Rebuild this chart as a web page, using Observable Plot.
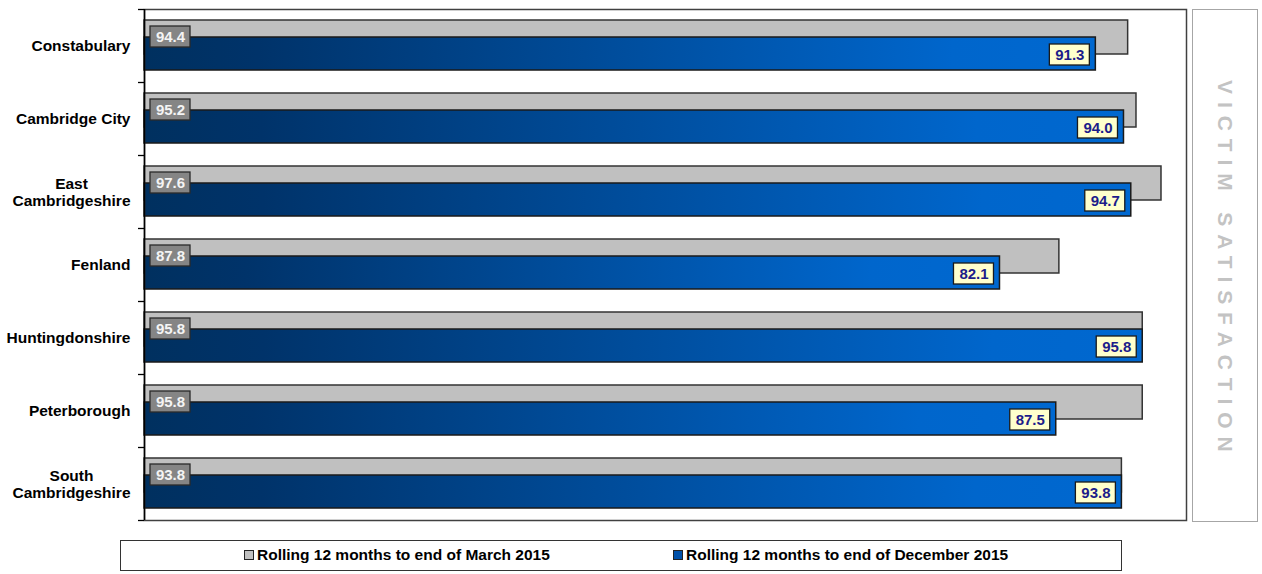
<!DOCTYPE html>
<html>
<head>
<meta charset="utf-8">
<script src="https://cdn.jsdelivr.net/npm/d3@7"></script>
<script src="https://cdn.jsdelivr.net/npm/@observablehq/plot@0.6"></script>
<style>
  body { margin: 0; background: #fff; font-family: "Liberation Sans", Arial, sans-serif; }
  #wrap { position: relative; width: 1262px; height: 574px; overflow: hidden; }
  #chart { position: absolute; left: 0; top: 0; }
  #chart svg { display: block; }
  #side {
    position: absolute; left: 1192px; top: 9px; width: 64px; height: 511px;
    border: 1px solid #a6a6a6; display: flex; align-items: center; justify-content: center;
  }
  #side span {
    writing-mode: vertical-rl; color: #c3c3c3; font-weight: bold; font-size: 21px;
    letter-spacing: 7.9px; padding-top: 8px;
  }
  #legend {
    position: absolute; left: 120px; top: 540px; width: 1000px; height: 29px;
    border: 1.5px solid #333; background: #fff;
  }
  .item { position: absolute; top: 5px; font-weight: bold; font-size: 15.5px; color: #000; white-space: nowrap; display: flex; align-items: center; }
  .sw { display: inline-block; width: 8px; height: 8px; border: 1px solid #222; margin-right: 3px; }
</style>
</head>
<body>
<div id="wrap">
  <div id="chart"></div>
  <div id="side"><span id="sideText"></span></div>
  <div id="legend"></div>
</div>
<script>
const areas = ["Constabulary", "Cambridge City", "East Cambridgeshire", "Fenland", "Huntingdonshire", "Peterborough", "South Cambridgeshire"];
const tickLabels = ["Constabulary", "Cambridge City", "East\nCambridgeshire", "Fenland", "Huntingdonshire", "Peterborough", "South\nCambridgeshire"];
const march2015 = [94.4, 95.2, 97.6, 87.8, 95.8, 95.8, 93.8];
const dec2015 = [91.3, 94.0, 94.7, 82.1, 95.8, 87.5, 93.8];
const seriesNames = ["Rolling 12 months to end of March 2015", "Rolling 12 months to end of December 2015"];
const seriesColors = ["#c0c0c0", "#0050a8"];
const sideTitle = "VICTIM SATISFACTION";

const rows = areas.map((area, i) => ({area, label: tickLabels[i], march: march2015[i], dec: dec2015[i]}));
const fmt = d3.format(".1f");
const bw = 73; // band height in px (range 9..520 over 7 bands)

const gradient = () => {
  const defs = document.createElementNS("http://www.w3.org/2000/svg", "defs");
  defs.innerHTML = `<linearGradient id="blueGrad" x1="0" x2="1" y1="0" y2="0">
      <stop offset="0" stop-color="#00305f"/>
      <stop offset="0.12" stop-color="#00336a"/>
      <stop offset="0.85" stop-color="#0066cc"/>
      <stop offset="1" stop-color="#0068d0"/>
    </linearGradient>`;
  return defs;
};

const chart = Plot.plot({
  width: 1262,
  height: 530,
  marginLeft: 144,
  marginRight: 76,
  marginTop: 9,
  marginBottom: 10,
  x: {domain: [0, 100], axis: null},
  y: {domain: areas, padding: 0, axis: null},
  style: {fontFamily: "'Liberation Sans', Arial, sans-serif", fontSize: "15px", fontWeight: "bold", background: "#fff"},
  marks: [
    gradient,
    // March 2015 bars (grey, upper half)
    Plot.barX(rows, {x: "march", y: "area", fill: seriesColors[0], stroke: "#333", strokeWidth: 1.5, insetTop: 11, insetBottom: 28}),
    // December 2015 bars (blue gradient, lower half)
    Plot.barX(rows, {x: "dec", y: "area", fill: "url(#blueGrad)", stroke: "#1a1a1a", strokeWidth: 1.5, insetTop: 28, insetBottom: 12}),
    // label boxes
    Plot.barX(rows, {x1: () => 0, x2: () => 0, y: "area", insetLeft: 6, insetRight: -46, insetTop: 17, insetBottom: 35, fill: "#858585", stroke: "#2a2a2a", strokeWidth: 1.3}),
    Plot.barX(rows, {x1: "dec", x2: "dec", y: "area", insetLeft: -46, insetRight: 6, insetTop: 35, insetBottom: 17, fill: "#ffffcc", stroke: "#1a1a1a", strokeWidth: 1.3}),
    Plot.text(rows, {y: "area", frameAnchor: "left", textAnchor: "middle", dx: 26, dy: -9, text: d => fmt(d.march), fill: "#f4f4f4", fontSize: 15}),
    Plot.text(rows, {x: "dec", y: "area", textAnchor: "middle", dx: -26, dy: 9, text: d => fmt(d.dec), fill: "#1c1c8a", fontSize: 15}),
    // frame and left axis
    Plot.frame({stroke: "#404040", strokeWidth: 1.5}),
    Plot.ruleX([0], {stroke: "#000", strokeWidth: 1.5}),
    Plot.ruleY(areas, {y: d => d, x1: () => 0, x2: () => 0, insetLeft: -6, dy: -bw / 2, stroke: "#000", strokeWidth: 1.3}),
    Plot.ruleY(areas.slice(-1), {y: d => d, x1: () => 0, x2: () => 0, insetLeft: -6, dy: bw / 2, stroke: "#000", strokeWidth: 1.3}),
    // category labels
    Plot.text(rows, {filter: d => !d.label.includes("\n"), y: "area", text: "label", frameAnchor: "left", textAnchor: "end", dx: -14, fill: "#000", fontSize: 15.5}),
    Plot.text(rows, {filter: d => d.label.includes("\n"), y: "area", text: "label", frameAnchor: "left", textAnchor: "middle", dx: -73, lineHeight: 1.1, fill: "#000", fontSize: 15.5})
  ]
});
document.getElementById("chart").appendChild(chart);

document.getElementById("sideText").textContent = sideTitle;

const legend = document.getElementById("legend");
const lefts = [123, 552];
seriesNames.forEach((name, i) => {
  const it = document.createElement("div");
  it.className = "item";
  it.style.left = lefts[i] + "px";
  const sw = document.createElement("span");
  sw.className = "sw";
  sw.style.background = seriesColors[i];
  it.appendChild(sw);
  const t = document.createElement("span");
  t.textContent = name;
  it.appendChild(t);
  legend.appendChild(it);
});
</script>
</body>
</html>
